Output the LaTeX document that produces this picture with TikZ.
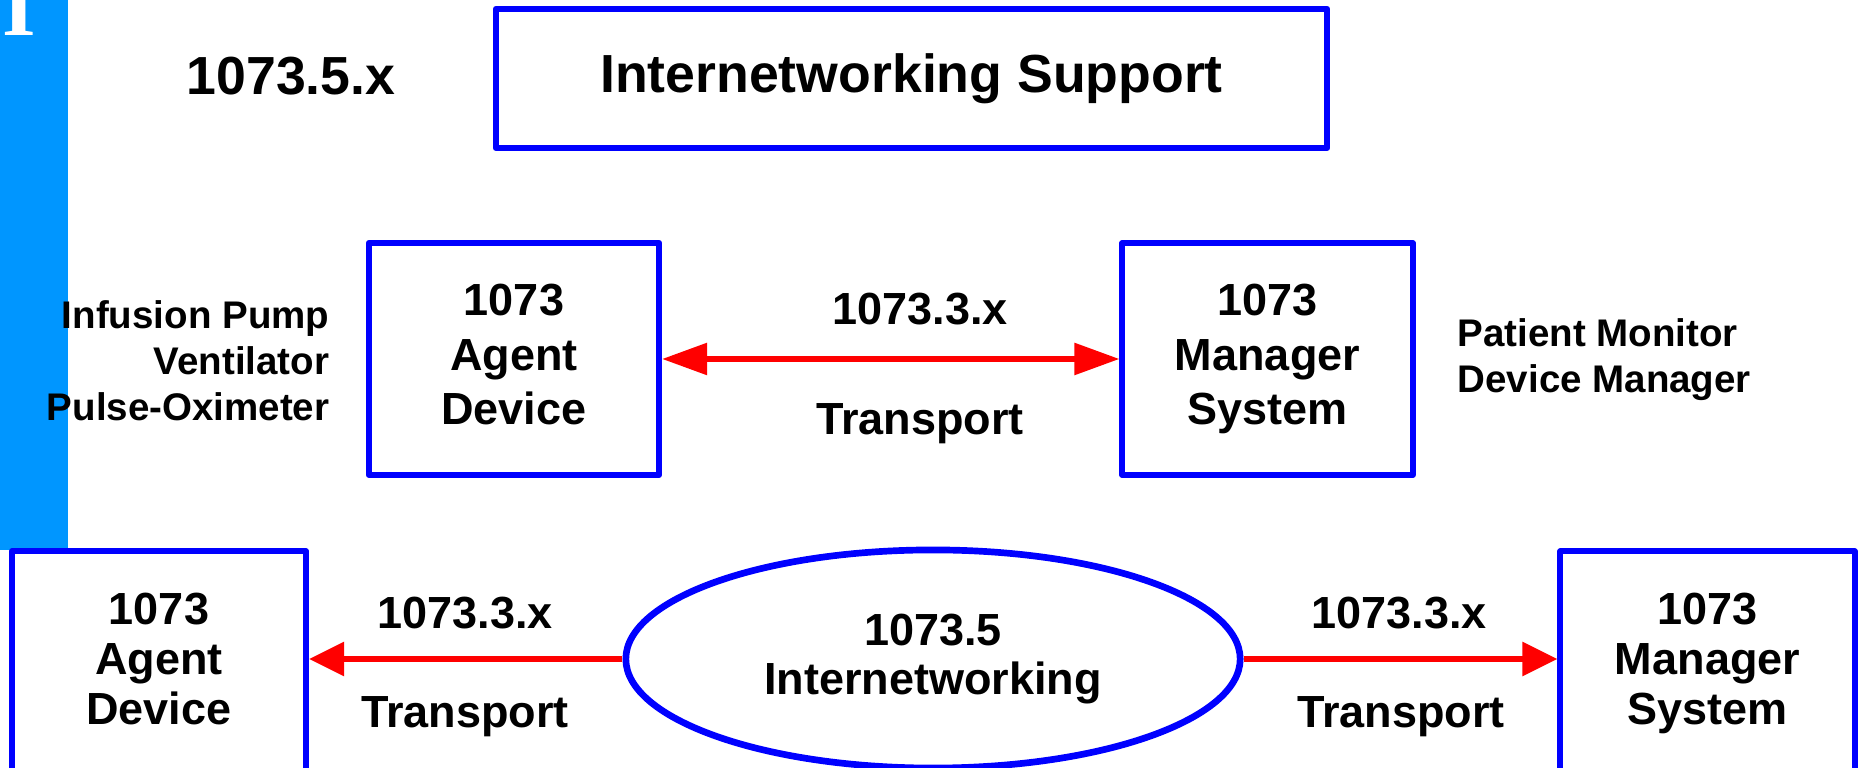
\documentclass[tikz,border=0pt]{standalone}
\usepackage{fontspec}
\setmainfont{Liberation Sans}
\newfontfamily\serifmark{Liberation Serif}
\usetikzlibrary{arrows.meta, shapes.geometric}
\definecolor{barblue}{RGB}{0,150,255}
\definecolor{boxblue}{RGB}{0,0,255}
\definecolor{linkred}{RGB}{255,0,0}

\begin{document}
\begin{tikzpicture}[
  x=0.01cm, y=-0.01cm,
  box/.style   = {draw=boxblue, line width=1.7pt, fill=white, align=center,
                  inner sep=0pt, line join=round,
                  font=\fontsize{12.8}{15.5}\selectfont\bfseries},
  lowbox/.style = {box, minimum width=2.94cm, minimum height=2.24cm,
                  font=\fontsize{12.8}{14.2}\selectfont\bfseries},
  midbox/.style = {box, minimum width=2.90cm, minimum height=2.32cm},
  cloud/.style = {ellipse, draw=boxblue, line width=1.9pt, fill=white, align=center,
                  inner sep=0pt, minimum width=6.14cm, minimum height=2.18cm,
                  font=\fontsize{12.8}{13.9}\selectfont\bfseries},
  lbl/.style   = {inner sep=0pt, font=\fontsize{12.8}{15.5}\selectfont\bfseries},
  side/.style  = {inner sep=0pt, font=\fontsize{10.95}{13.1}\selectfont\bfseries},
  title/.style = {inner sep=0pt, font=\fontsize{15.25}{18}\selectfont\bfseries},
  link/.style  = {draw=linkred, line width=1.6pt},
  midtip/.tip  = {Triangle[length=4.5mm, width=3.1mm]},
  lowtip/.tip  = {Triangle[length=3.5mm, width=3.3mm]},
]
\clip (0,0) rectangle (1861,768);

%% side bar
\fill[barblue] (0,0) rectangle (68,550);
\node[inner sep=0pt, anchor=base, text=white,
      font=\serifmark\bfseries\fontsize{24.5}{24.5}\selectfont] (mark) at (19.5,36) {I};

%% ---------- top row ----------
\node[title, anchor=base] (std) at (291,95) {1073.5.x};
\node[box, minimum width=8.31cm, minimum height=1.39cm,
      font=\fontsize{15.25}{18}\selectfont\bfseries] (support) at (911.5,78.5)
      {Internetworking Support};

%% ---------- middle row ----------
\node[midbox] (magent) at (514,359) {1073\\Agent\\Device\vphantom{y}};
\node[midbox] (mmanager) at (1267.5,359) {1073\\Manager\\System};

\node[side, anchor=east, align=right] (devices) at (330,361)
      {Infusion Pump\\Ventilator\\Pulse-Oximeter};
\node[side, anchor=west, align=left] (systems) at (1457,360)
      {Patient Monitor\\Device Manager};

\draw[link, midtip-midtip] (magent) -- (mmanager);
\node[lbl, anchor=base] (mstd) at (920,325) {1073.3.x};
\node[lbl, anchor=base] (mtrans) at (920,435) {Transport};

%% ---------- bottom row ----------
\node[lowbox] (bagent) at (159,663.5) {1073\\Agent\\Device\vphantom{y}};
\node[lowbox] (bmanager) at (1707.5,663.5) {1073\\Manager\\System};
\node[cloud] (net) at (933,659) {1073.5\\Internetworking};

\draw[link, -lowtip] (net.west) -- (net.west -| bagent.east);
\draw[link, -lowtip] (net.east) -- (net.east -| bmanager.west);

\node[lbl, anchor=base] (lstd) at (465,629) {1073.3.x};
\node[lbl, anchor=base] (ltrans) at (465,728) {Transport};
\node[lbl, anchor=base] (rstd) at (1399,629) {1073.3.x};
\node[lbl, anchor=base] (rtrans) at (1401,728) {Transport};

\end{tikzpicture}
\end{document}
